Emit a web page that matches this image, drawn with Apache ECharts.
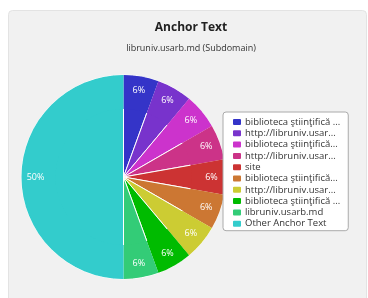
<!DOCTYPE html>
<html lang="en">
<head>
    <meta charset="UTF-8">
    <title>anchor text</title>
    <script src="https://cdn.jsdelivr.net/npm/echarts@6/dist/echarts.min.js"></script>
    <style>
        html, body { margin: 0; padding: 0; background: #fff; }
        #main { width: 368px; height: 298px; }
    </style>
</head>
<body>
<div id="main"></div>
<script>
    // 图例文字（原图已截断）
    var labels = ['biblioteca ştiinţifică ...', 'http://libruniv.usar...', 'biblioteca ştiinţifică...',
        'http://libruniv.usar...', 'site', 'biblioteca ştiinţifică...', 'http://libruniv.usar...',
        'biblioteca ştiinţifică ...', 'libruniv.usarb.md', 'Other Anchor Text'];
    var values = [1, 1, 1, 1, 1, 1, 1, 1, 1, 9];
    var colors = ['#3434c8', '#7833cc', '#cc33cc', '#cc3388', '#cc3333', '#cc7733', '#cccc33',
        '#00bb00', '#33cc77', '#33cccc'];

    var pieData = values.map(function (v, i) {
        return {name: 's' + i, value: v, itemStyle: {color: colors[i]}};
    });

    var chart = echarts.init(document.getElementById('main'));
    var option = {
        animation: false,
        graphic: [{
            type: 'rect', z: -10,
            shape: {x: 8.5, y: 10.5, width: 358, height: 292, r: 4},
            style: {fill: '#f1f1f1', stroke: '#e3e3e3', lineWidth: 1}
        }],
        title: {
            text: 'Anchor Text',
            subtext: 'libruniv.usarb.md (Subdomain)',
            left: 186, top: 17, textAlign: 'center',
            itemGap: 10,
            textStyle: {fontFamily: 'Open Sans', fontSize: 12, fontWeight: 'bold', color: '#222'},
            subtextStyle: {fontFamily: 'Open Sans', fontSize: 9, color: '#333'}
        },
        legend: {
            orient: 'vertical',
            left: 223, top: 112,
            padding: [5, 8, 2, 8],
            backgroundColor: '#fff',
            borderColor: '#aaa', borderWidth: 1, borderRadius: 3,
            itemWidth: 10, itemHeight: 8, itemGap: 1.3,
            icon: 'roundRect',
            textStyle: {fontFamily: 'Open Sans', fontSize: 9.5, lineHeight: 9.8, color: '#333', padding: [0, 0, 0, -2]},
            formatter: function (name) {
                return labels[+name.slice(1)];
            },
            data: pieData.map(function (d) { return d.name; })
        },
        series: [{
            type: 'pie',
            center: [123.5, 177],
            radius: 102,
            startAngle: 90,
            clockwise: true,
            label: {show: false},
            labelLine: {show: false},
            emphasis: {disabled: true},
            itemStyle: {borderColor: '#fff', borderWidth: 1},
            data: pieData
        }, {
            // 只用于放置百分比标签
            type: 'pie',
            center: [123.5, 177],
            radius: [68, 102],
            startAngle: 90,
            clockwise: true,
            silent: true,
            itemStyle: {color: 'rgba(0,0,0,0)', borderWidth: 0},
            label: {
                show: true, position: 'inside',
                fontFamily: 'Open Sans', fontSize: 9, color: '#fff',
                formatter: function (p) { return Math.round(p.percent) + '%'; }
            },
            labelLine: {show: false},
            data: pieData
        }]
    };
    chart.setOption(option);
</script>
</body>
</html>
